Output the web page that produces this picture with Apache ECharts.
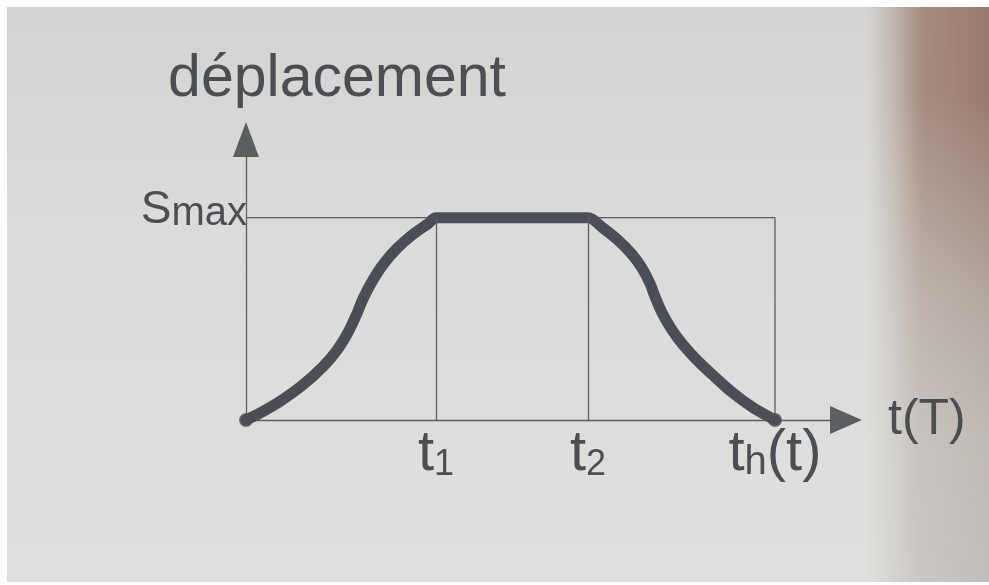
<!DOCTYPE html>
<html>
<head>
<meta charset="utf-8">
<script src="https://cdn.jsdelivr.net/npm/echarts@6/dist/echarts.min.js"></script>
<style>
  html, body { margin: 0; padding: 0; background: #ffffff; }
  #paper {
    position: absolute; left: 7px; top: 7px; right: 0; bottom: 3px;
    background: linear-gradient(180deg, #d3d4d1 0%, #dbdcd9 40%, #dfdfdd 100%);
    overflow: hidden;
  }
  #shade {
    position: absolute; top: 0; bottom: 0; left: 860px; right: 0;
    background: linear-gradient(90deg, rgba(150,116,100,0) 0%, rgba(150,116,100,0.25) 22%, rgba(150,114,98,0.7) 45%, rgba(145,110,95,0.85) 100%);
    -webkit-mask-image: linear-gradient(180deg, #000 0%, #000 15%, rgba(0,0,0,0.4) 50%, rgba(0,0,0,0.12) 75%, rgba(0,0,0,0.08) 100%);
    mask-image: linear-gradient(180deg, #000 0%, #000 15%, rgba(0,0,0,0.4) 50%, rgba(0,0,0,0.12) 75%, rgba(0,0,0,0.08) 100%);
  }
  #edge {
    position: absolute; top: 0; bottom: 0; left: 860px; right: 0;
    background: linear-gradient(90deg, rgba(190,186,182,0) 0%, rgba(190,186,182,0.5) 40%, rgba(188,184,180,0.7) 100%);
  }
  #chart { position: absolute; left: 0; top: 0; width: 989px; height: 585px; }
</style>
</head>
<body>
<div id="paper"><div id="edge"></div><div id="shade"></div></div>
<div id="chart"></div>
<script>
// Motion profile: displacement vs. time (rise, dwell, return)
const xName = 't(T)';
const yName = 'déplacement';

// time markers on the horizontal axis
const tValues = [1.90, 3.42, 5.29];
const tMain = ['t', 't', 't'];
const tSub = ['1', '2', 'h'];
const tTail = ['', '', '(t)'];

// maximum displacement
const sMax = 1;
const sMain = 'S';
const sSub = 'max';

// axis extents
const tAxisMax = 5.84;
const sAxisMax = 1.3;

// displacement curve: rise, dwell at Smax, return
const curveT = [0, 0.14, 0.34, 0.57, 0.77, 0.91, 1.02, 1.11, 1.17, 1.26, 1.37, 1.51, 1.67, 1.82, 1.90,
                3.42, 3.57, 3.72, 3.86, 3.96, 4.04, 4.09, 4.16, 4.26, 4.37, 4.51, 4.67, 4.87, 5.07, 5.29];
const curveS = [0, 0.034, 0.092, 0.174, 0.264, 0.345, 0.433, 0.527, 0.599, 0.684, 0.768, 0.848, 0.918, 0.97, 1.0,
                1.0, 0.949, 0.889, 0.819, 0.751, 0.675, 0.61, 0.53, 0.445, 0.372, 0.296, 0.221, 0.133, 0.061, 0];

const ink = '#4b4e53';
const thin = '#5b5e61';
const curveColor = '#4a4f57';
const font = '"Liberation Sans", Arial, Helvetica, sans-serif';

const curveData = curveT.map((t, i) => [t, curveS[i]]);
const endPoints = [curveData[0], curveData[curveData.length - 1]];
const tEnd = tValues[tValues.length - 1];

const chart = echarts.init(document.getElementById('chart'), null, { renderer: 'canvas' });

chart.setOption({
  backgroundColor: 'transparent',
  animation: false,
  grid: { left: 246, right: 159, top: 157, bottom: 165, containLabel: false },
  xAxis: {
    type: 'value',
    min: 0,
    max: tAxisMax,
    name: xName,
    nameLocation: 'end',
    nameGap: 58,
    nameTextStyle: { fontFamily: font, fontSize: 50, color: ink, padding: [0, 0, 12, 0] },
    axisLine: {
      show: true,
      symbol: ['none', 'triangle'],
      symbolSize: [28, 32],
      symbolOffset: [0, 16],
      lineStyle: { color: thin, width: 1.3 }
    },
    axisTick: { show: false },
    splitLine: { show: false },
    axisLabel: {
      customValues: tValues,
      margin: 5,
      color: ink,
      fontFamily: font,
      formatter: function (v) {
        const i = tValues.indexOf(v);
        if (i < 0) return '';
        let s = '{m|' + tMain[i] + '}{' + (tSub[i] === 'h' ? 'h' : 's') + '|' + tSub[i] + '}';
        if (tTail[i]) s += '{m|' + tTail[i] + '}';
        return s;
      },
      rich: {
        m: { fontFamily: font, fontSize: 58, lineHeight: 58, color: ink, verticalAlign: 'bottom' },
        s: { fontFamily: font, fontSize: 36, lineHeight: 42, color: ink, verticalAlign: 'bottom' },
        h: { fontFamily: font, fontSize: 40, lineHeight: 45, color: ink, verticalAlign: 'bottom' }
      }
    }
  },
  yAxis: {
    type: 'value',
    min: 0,
    max: sAxisMax,
    name: yName,
    nameLocation: 'end',
    nameGap: 48,
    nameTextStyle: { fontFamily: font, fontSize: 59, color: ink, align: 'center', padding: [0, 0, 0, 182] },
    axisLine: {
      show: true,
      symbol: ['none', 'triangle'],
      symbolSize: [26, 35],
      symbolOffset: [0, 17.5],
      lineStyle: { color: thin, width: 1.3 }
    },
    axisTick: { show: false },
    splitLine: { show: false },
    axisLabel: {
      customValues: [sMax],
      margin: -1,
      padding: [0, 0, 14, 0],
      formatter: function () { return '{b|' + sMain + '}{s|' + sSub + '}'; },
      rich: {
        b: { fontFamily: font, fontSize: 46, lineHeight: 46, color: ink, verticalAlign: 'bottom' },
        s: { fontFamily: font, fontSize: 40, lineHeight: 42, color: ink, verticalAlign: 'bottom' }
      }
    }
  },
  series: [
    {
      name: 'frame',
      type: 'line',
      z: 1,
      data: [[0, sMax], [tEnd, sMax], [tEnd, 0]],
      symbol: 'none',
      lineStyle: { color: thin, width: 1.3 },
      silent: true,
      markLine: {
        silent: true,
        symbol: 'none',
        label: { show: false },
        lineStyle: { color: thin, width: 1.3, type: 'solid' },
        data: tValues.slice(0, 2).map(t => [{ coord: [t, 0] }, { coord: [t, sMax] }])
      }
    },
    {
      name: yName,
      type: 'line',
      z: 3,
      data: curveData,
      symbol: 'none',
      smooth: 0.3,
      lineStyle: { color: curveColor, width: 11, cap: 'round', join: 'round' }
    },
    {
      name: 'ends',
      type: 'scatter',
      z: 4,
      data: endPoints,
      symbol: 'circle',
      symbolSize: 14,
      itemStyle: { color: curveColor }
    }
  ]
});
</script>
</body>
</html>
